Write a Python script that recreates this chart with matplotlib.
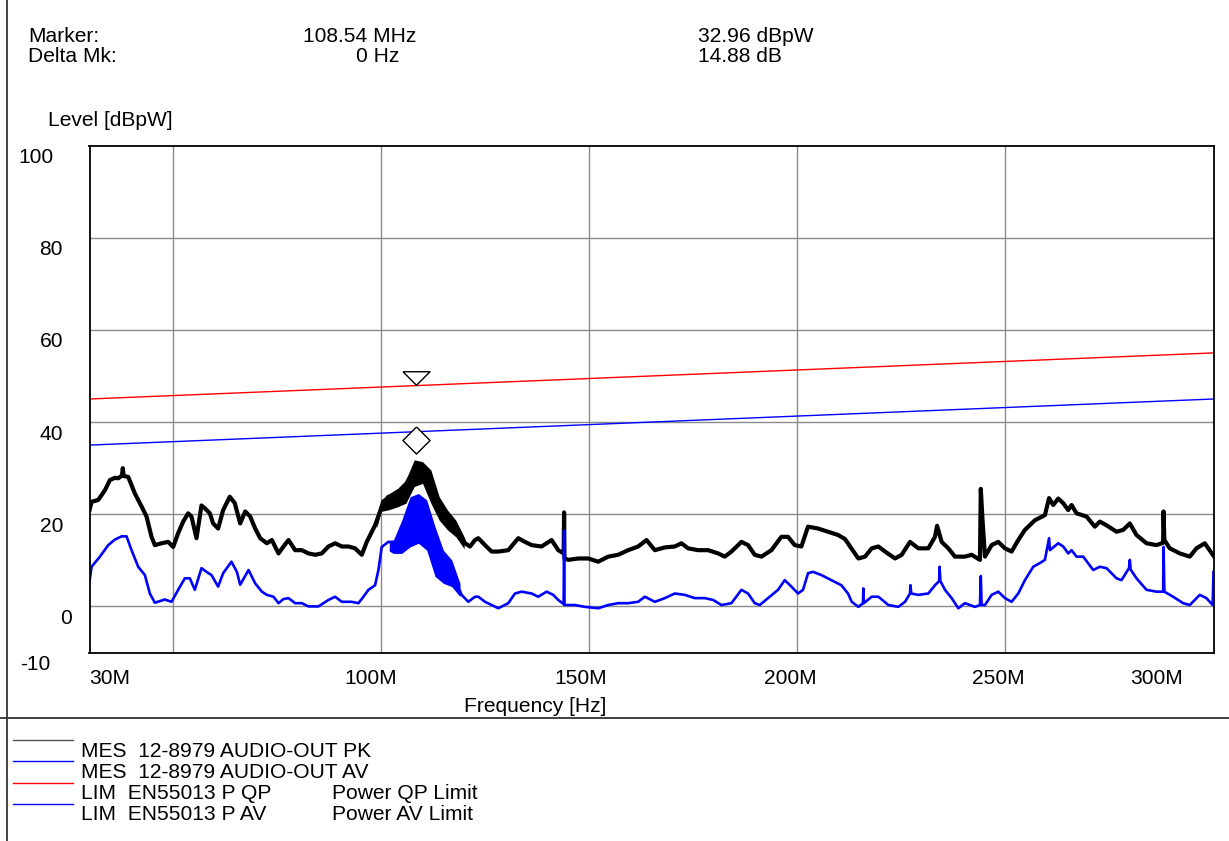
import matplotlib
matplotlib.use("Agg")
import matplotlib.pyplot as plt
from matplotlib.lines import Line2D
from matplotlib.transforms import blended_transform_factory, offset_copy


# peak trace (MES ... PK), MHz / dBpW
pk_freq = [30.0, 30.5, 32.1, 33.7, 34.9, 36.1, 36.9, 37.8, 38.0, 38.2, 39.3, 40.9, 42.5, 43.7,
           44.9, 45.7, 47.3, 48.9, 50.1, 51.3, 52.5, 53.7, 54.5, 55.7, 56.9, 57.7, 58.9, 59.7,
           60.9, 62.1, 63.7, 64.9, 66.2, 67.4, 68.6, 69.8, 71.0, 72.6, 73.8, 75.4, 76.6, 77.8,
           79.4, 81.0, 82.6, 84.2, 85.8, 87.4, 89.0, 90.6, 92.2, 93.8, 95.4, 96.6, 98.6, 100.2,
           101.8, 103.4, 105.0, 106.6, 107.8, 109.0, 110.2, 111.4, 112.6, 113.8, 115.4, 117.0,
           118.6, 120.2, 121.4, 122.6, 123.4, 125.0, 126.6, 128.2, 130.6, 133.0, 134.6, 136.2,
           138.6, 141.0, 142.6, 143.9, 144.0, 144.1, 145.0, 147.4, 149.8, 152.2, 154.6, 157.0,
           159.4, 161.8, 163.8, 165.8, 168.2, 170.6, 172.2, 173.8, 176.2, 178.6, 181.0, 182.6,
           184.2, 186.6, 188.2, 189.8, 191.4, 193.8, 196.2, 197.8, 199.4, 201.0, 202.6, 205.0,
           207.4, 209.8, 211.5, 212.7, 214.7, 216.3, 217.9, 219.5, 221.1, 223.5, 225.1, 227.1,
           229.1, 231.5, 233.1, 233.6, 234.7, 236.3, 237.9, 240.3, 241.9, 243.9, 244.1, 244.5,
           245.1, 246.7, 248.3, 249.9, 251.5, 253.1, 254.7, 257.1, 259.5, 260.5, 261.5, 262.7,
           263.9, 265.1, 265.9, 267.1, 269.5, 271.5, 272.7, 274.3, 276.7, 278.3, 279.9, 281.5,
           283.9, 286.3, 287.9, 288.0, 288.2, 289.5, 291.9, 294.3, 295.9, 297.9, 300.0]
pk_level = [20.9, 22.7, 23.1, 25.2, 27.4, 27.9, 27.8, 28.4, 30.0, 28.3, 28.1, 24.5, 21.7, 19.5,
            15.1, 13.3, 13.7, 14.0, 12.9, 15.9, 18.4, 20.2, 19.5, 14.8, 21.9, 21.3, 20.2, 18.0,
            16.9, 20.9, 23.8, 22.4, 18.0, 20.6, 19.5, 16.9, 14.8, 13.7, 14.4, 11.5, 13.0, 14.4,
            12.2, 12.2, 11.5, 11.2, 11.5, 13.0, 13.7, 13.0, 13.0, 12.6, 11.2, 14.0, 17.6, 21.6,
            23.8, 23.1, 24.5, 27.4, 29.5, 29.5, 29.0, 27.0, 23.8, 21.3, 19.5, 18.0,
            16.6, 13.7, 13.0, 14.4, 14.8, 13.3, 11.9, 11.9, 12.2, 14.8, 14.0, 13.3,
            13.0, 14.4, 12.2, 11.5, 20.4, 10.4, 10.1, 10.4, 10.4, 9.7, 10.8, 11.2,
            12.2, 13.0, 14.4, 12.2, 12.8, 13.0, 13.7, 12.6, 12.2, 12.2, 11.5, 10.8,
            11.9, 14.0, 13.3, 11.2, 10.8, 12.2, 15.1, 15.1, 13.3, 13.0, 17.3, 16.9,
            16.2, 15.5, 14.6, 13.0, 10.4, 10.8, 12.6, 13.0, 11.9, 10.4, 11.2, 14.0,
            12.6, 12.6, 15.1, 17.5, 14.0, 12.6, 10.8, 10.8, 11.2, 10.1, 25.5, 19.0,
            10.8, 13.3, 14.0, 12.6, 11.9, 14.4, 16.6, 18.7, 19.8, 23.5, 22.0, 23.4,
            22.4, 20.9, 22.0, 20.2, 19.5, 17.3, 18.4, 17.6, 16.2, 16.6, 18.0, 15.5,
            13.7, 13.3, 13.8, 20.6, 14.4, 12.6, 11.5, 10.8, 12.6, 13.7, 11.0]

# average trace (MES ... AV)
av_freq = [30.0, 30.5, 32.5, 34.5, 36.1, 37.7, 38.9, 40.1, 41.7, 43.3, 44.5, 45.7, 48.1, 49.7,
           51.3, 52.9, 54.1, 55.3, 56.9, 58.1, 59.3, 60.9, 62.1, 64.1, 65.4, 66.2, 68.2, 69.8,
           71.4, 72.6, 74.2, 75.4, 76.6, 77.8, 79.4, 81.0, 82.6, 85.0, 87.4, 89.0, 90.6, 93.0,
           94.6, 95.8, 97.0, 98.6, 99.4, 100.2, 101.8, 103.4, 104.2, 105.8, 107.4, 108.6, 110.2,
           112.2, 113.8, 115.4, 117.0, 118.2, 119.4, 121.0, 122.6, 123.4, 125.0, 126.6, 128.2,
           130.6, 132.2, 133.8, 136.2, 137.8, 139.8, 141.4, 142.6, 143.9, 144.0, 144.1, 146.6,
           149.0, 152.2, 154.6, 157.0, 159.4, 161.8, 163.4, 165.8, 168.2, 170.6, 173.0, 175.4,
           177.8, 179.8, 181.8, 184.2, 186.6, 188.2, 189.8, 191.0, 193.4, 195.4, 197.0, 198.6,
           200.2, 201.4, 202.6, 203.8, 205.8, 208.2, 210.6, 212.2, 213.1, 214.7, 215.8, 215.9,
           216.0, 217.9, 219.5, 221.9, 224.3, 225.9, 227.1, 227.2, 227.4, 229.1, 231.5, 233.1,
           234.1, 234.2, 234.4, 235.5, 237.1, 238.7, 240.3, 242.7, 243.9, 244.1, 244.3, 245.1,
           246.7, 248.3, 249.9, 251.5, 253.1, 254.7, 256.7, 258.3, 259.5, 260.5, 260.7, 262.7,
           263.9, 265.1, 265.9, 267.1, 268.7, 271.1, 272.7, 274.3, 276.7, 277.9, 279.7, 279.9,
           280.1, 281.5, 283.9, 286.3, 287.9, 288.0, 288.2, 290.3, 292.7, 294.3, 296.7, 298.3,
           299.8, 300.0]
av_level = [5.4, 8.6, 10.8, 13.3, 14.5, 15.2, 15.2, 12.2, 8.6, 6.8, 2.8, 0.8, 1.5, 1.0,
            3.6, 6.1, 6.1, 3.6, 8.3, 7.5, 6.8, 4.3, 7.2, 9.7, 7.5, 4.7, 7.9, 5.0,
            3.2, 2.5, 2.1, 0.7, 1.6, 1.8, 0.7, 0.7, 0.0, 0.0, 1.4, 2.1, 1.0, 1.0,
            0.7, 2.1, 3.6, 4.6, 7.9, 12.9, 14.0, 14.0, 12.2, 15.8, 18.5, 19.0, 18.0,
            12.5, 10.1, 8.6, 6.5, 5.0, 2.5, 1.0, 2.1, 2.1, 1.0, 0.3, -0.4,
            0.7, 2.8, 3.2, 2.8, 2.1, 3.2, 2.5, 1.4, 0.5, 16.4, 0.3, 0.3,
            -0.1, -0.4, 0.3, 0.7, 0.7, 1.0, 2.1, 1.0, 1.8, 2.8, 2.5, 1.8,
            1.8, 1.4, 0.3, 0.7, 3.6, 2.8, 0.7, 0.3, 2.1, 3.6, 5.7, 4.3,
            2.8, 3.6, 7.2, 7.5, 6.8, 5.7, 4.6, 2.8, 1.0, -0.1, 0.7, 3.9,
            0.7, 2.1, 2.1, 0.3, -0.1, 1.0, 2.8, 4.6, 2.8, 2.5, 2.8, 4.6,
            5.5, 8.6, 5.5, 3.6, 1.8, -0.4, 0.7, -0.1, 0.3, 6.6, 0.3, 0.3,
            2.5, 3.2, 1.8, 1.0, 2.8, 5.7, 8.6, 9.4, 10.1, 14.8, 12.2, 13.7,
            13.0, 11.5, 12.2, 10.8, 10.8, 7.9, 8.6, 8.3, 6.1, 5.7, 8.3, 10.1,
            8.0, 6.1, 3.6, 3.2, 3.2, 12.9, 3.2, 2.1, 0.7, 0.3, 2.5, 1.8,
            0.3, 7.5]

# noisy band around the 108 MHz emission
pk_band_freq = [99, 100, 102, 104, 106, 108, 110, 112, 114, 116, 118, 120]
pk_band_hi = [20.0, 23.1, 24.5, 25.6, 27.4, 31.8, 31.4, 29.6, 23.8, 20.9, 18.7, 15.0]
pk_band_lo = [17.0, 20.6, 21.0, 21.6, 22.4, 26.0, 26.7, 22.4, 18.7, 16.6, 15.1, 12.5]
av_band_freq = [102, 103, 105, 107, 109, 111, 113, 115, 117, 119]
av_band_hi = [14.0, 14.4, 18.7, 23.8, 24.5, 23.1, 17.3, 12.2, 10.1, 5.0]
av_band_lo = [12.0, 11.5, 11.5, 12.9, 13.7, 12.2, 6.5, 5.0, 4.3, 2.1]

# EN55013 power limits
lim_freq = [30, 300]
lim_qp = [45, 55]
lim_av = [35, 45]

# marker
mk_freq = 108.54
mk_tri_level = 49.6
mk_dia_level = 36.1

y_ticks = [-10, 0, 20, 40, 60, 80, 100]
x_ticks = [30, 100, 150, 200, 250, 300]
x_tick_labels = ["30M", "100M", "150M", "200M", "250M", "300M"]

legend_names = ["MES  12-8979 AUDIO-OUT PK", "MES  12-8979 AUDIO-OUT AV",
                "LIM  EN55013 P QP", "LIM  EN55013 P AV"]
legend_notes = ["", "", "Power QP Limit", "Power AV Limit"]
legend_colors = ["#555555", "#0000ff", "#ff0000", "#0000ff"]

W, H = 1229, 841
FONT = "Liberation Sans"
FS = 15.1


def px(x, y):
    return x / W, 1 - y / H


fig = plt.figure(figsize=(W / 100, H / 100), dpi=100)
plt.rcParams["font.family"] = [FONT, "DejaVu Sans"]

ax = fig.add_axes([89.5 / W, 1 - 652.5 / H, 1124 / W, 507 / H])
ax.set_xlim(30, 300)
ax.set_ylim(-10, 100)
ax.set_xticks([50, 100, 150, 200, 250])
ax.set_yticks([0, 20, 40, 60, 80])
ax.tick_params(length=0, labelbottom=False, labelleft=False)
ax.grid(True, color="#8a8a8a", linewidth=1.0)
ax.set_axisbelow(True)
for s in ax.spines.values():
    s.set_color("black")
    s.set_linewidth(1.3)

ax.plot(lim_freq, lim_qp, color="#ff0000", lw=1.0)
ax.plot(lim_freq, lim_av, color="#0000ff", lw=1.0)

ax.fill_between(pk_band_freq, pk_band_lo, pk_band_hi, color="black", lw=0)
ax.plot(pk_freq, pk_level, color="black", lw=3.0, solid_joinstyle="round")
ax.fill_between(av_band_freq, av_band_lo, av_band_hi, color="#0000ff", lw=0)
ax.plot(av_freq, av_level, color="#0000ff", lw=1.9, solid_joinstyle="round")

tri = [(-1, 0.5), (1, 0.5), (0, -0.5), (-1, 0.5)]
dia = [(0, 1), (1, 0), (0, -1), (-1, 0), (0, 1)]
ax.plot([mk_freq], [mk_tri_level], marker=tri, ms=19.5, mfc="white", mec="black", mew=1.0)
ax.plot([mk_freq], [mk_dia_level], marker=dia, ms=19.5, mfc="white", mec="black", mew=1.0)

# y tick labels: right edges in pixels, as in the original layout
y_label_right = [50, 72, 63, 63, 63, 63, 53]
ytr = offset_copy(blended_transform_factory(fig.transFigure, ax.transData),
                  fig=fig, y=-17.5 * 0.72, units="points")
for v, xr in zip(y_ticks, y_label_right):
    ax.text(xr / W, v, str(v), transform=ytr, ha="right", va="baseline",
            fontsize=FS, clip_on=False)

# x tick labels
x_label_dx = [0, -10, -8, -7, -7, -57]
x_label_ha = ["left", "center", "center", "center", "center", "center"]
xtr = blended_transform_factory(ax.transData, fig.transFigure)
for v, lab, dx, ha in zip(x_ticks, x_tick_labels, x_label_dx, x_label_ha):
    t = offset_copy(xtr, fig=fig, x=dx * 0.72, units="points")
    ax.text(v, 1 - 684 / H, lab, transform=t, ha=ha, va="baseline",
            fontsize=FS, clip_on=False)

fig.text(*px(535.5, 712), "Frequency [Hz]", ha="center", va="baseline", fontsize=FS)
fig.text(*px(48, 126), "Level [dBpW]", ha="left", va="baseline", fontsize=FS)

# marker header
fig.text(*px(28, 42), "Marker:", ha="left", va="baseline", fontsize=FS)
fig.text(*px(28, 62), "Delta Mk:", ha="left", va="baseline", fontsize=FS)
fig.text(*px(416, 42), "108.54 MHz", ha="right", va="baseline", fontsize=FS)
fig.text(*px(399, 62), "0 Hz", ha="right", va="baseline", fontsize=FS)
fig.text(*px(698, 42), "32.96 dBpW", ha="left", va="baseline", fontsize=FS)
fig.text(*px(698, 62), "14.88 dB", ha="left", va="baseline", fontsize=FS)

# frame lines
fig.add_artist(Line2D([0, 1], [1 - 718 / H] * 2, color="#333333", lw=1.3))
fig.add_artist(Line2D([7 / W] * 2, [0, 1], color="#333333", lw=1.3))

# legend block
line_y = [740, 761, 783, 804]
text_y = [757, 778, 799, 820]
for i in range(4):
    fig.add_artist(Line2D([13 / W, 73 / W], [1 - line_y[i] / H] * 2,
                          color=legend_colors[i], lw=1.0))
    fig.text(*px(81, text_y[i]), legend_names[i], ha="left", va="baseline", fontsize=FS)
    if legend_notes[i]:
        fig.text(*px(332, text_y[i]), legend_notes[i], ha="left", va="baseline", fontsize=FS)

fig.savefig("out.png", dpi=100)
